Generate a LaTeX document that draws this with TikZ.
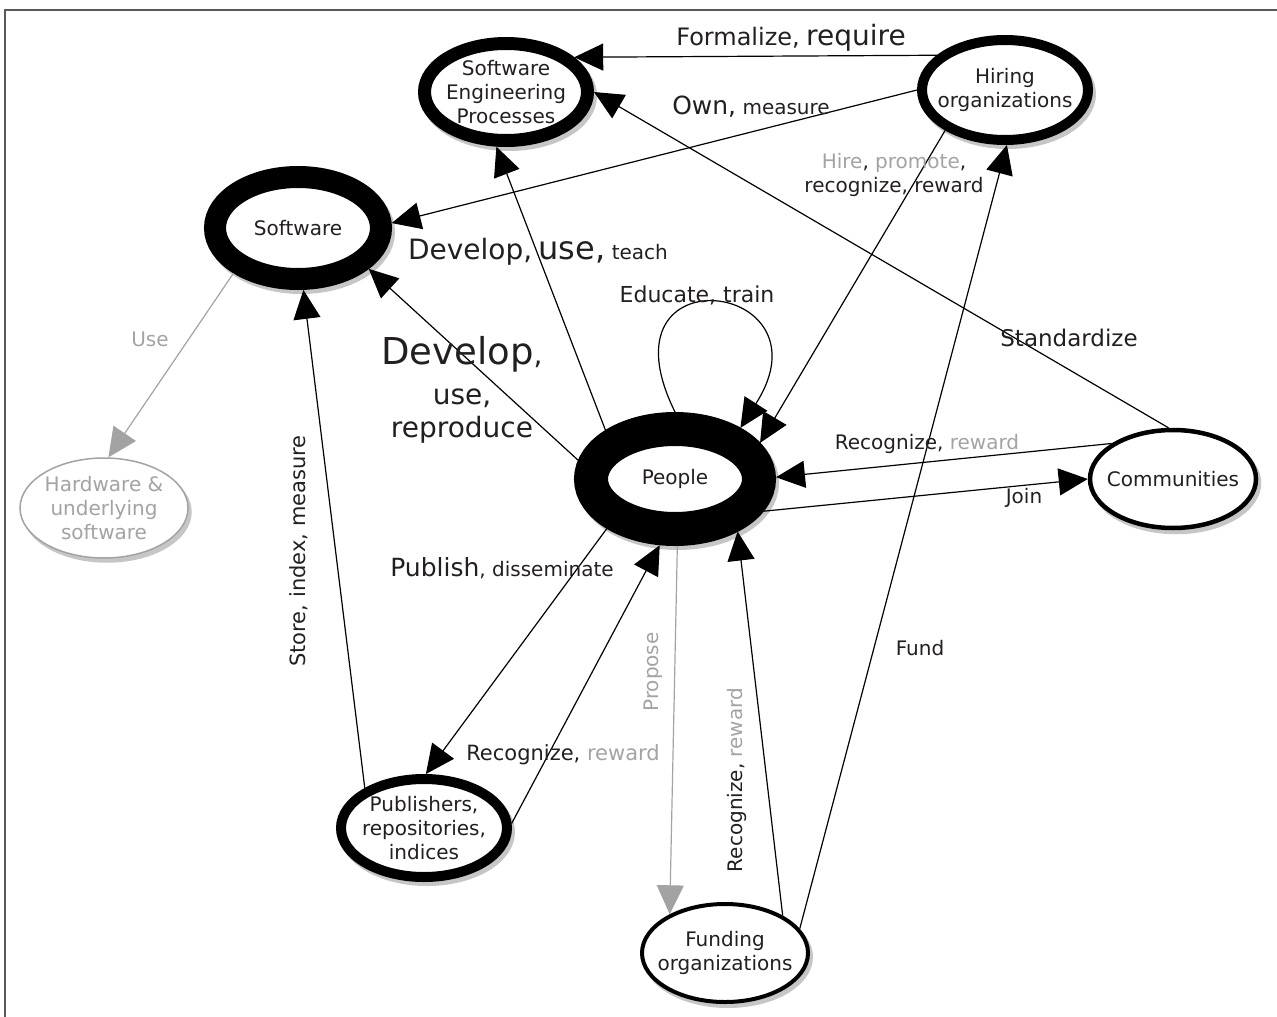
\documentclass[tikz,border=0pt]{standalone}
\usepackage{fontspec}
\setmainfont{DejaVu Sans}
\usetikzlibrary{shapes.geometric,arrows.meta}
\definecolor{ink}{HTML}{231F20}
\definecolor{faint}{HTML}{A3A3A3}
\definecolor{shade}{HTML}{C6C6C6}
\newcommand\lblsize[1]{\fontsize{#1}{24}\selectfont}

\begin{document}
\begin{tikzpicture}[x=1pt, y=-1pt, line width=1.2pt,
    >={Triangle[length=29pt, width=27pt]},
    actor/.style={ellipse, draw=black, fill=white, line width=#1,
      inner sep=-30pt, minimum width=166pt, minimum height=98pt,
      align=center, text=ink, font=\lblsize{20},
      preaction={fill=shade, draw=shade, line width=#1,
        transform canvas={xshift=3pt, yshift=-4pt}}},
    lbl/.style={text=ink, font=\lblsize{20}, inner sep=0pt, align=center}]
    \useasboundingbox (0, 0) rectangle (1277, 1017);
    \draw[line width=1.5pt, black!65] (5, 1017) -- (5, 10) -- (1277, 10);

    \node[actor=13pt, minimum width=163pt, minimum height=97pt]
      (sep) at (506, 92) {Software\\Engineering\\Processes};
    \node[actor=10pt, minimum height=100pt]
      (hir) at (1005, 90) {Hiring\\organizations};
    \node[actor=22pt, minimum height=102pt]
      (sw) at (298, 228) {Software};
    \node[actor=34pt, minimum width=168pt, minimum height=100pt]
      (ppl) at (675, 479) {People};
    \node[actor=4.5pt]
      (com) at (1173, 479) {Communities};
    \node[actor=1.5pt, draw=faint, text=faint, minimum width=168pt, minimum height=100pt]
      (hw) at (104, 508) {Hardware \&\\underlying\\software};
    \node[actor=10pt]
      (pub) at (424, 828) {Publishers,\\repositories,\\indices};
    \node[actor=4pt]
      (fund) at (725, 953) {Funding\\organizations};

    \draw[->] (hir.153) -- (sep.27);
    \draw[->] (hir.180) -- (sw.3);
    \draw[->] (ppl.145) -- (sep.260);
    \draw[->] (ppl.169) -- (sw.330);
    \draw[->] (com.95) -- (sep.0);
    \draw[->] (hir.214) -- (ppl.23);
    \draw[->] (fund.18) -- (hir.272);
    \draw[->] (ppl.90) .. controls (595, 250) and (835, 280) .. (ppl.38);
    \draw[->] (com.150) -- (ppl.1);
    \draw[->] (ppl.-20) -- (com.180);
    \draw[->, draw=faint] (sw.215) -- (hw.85);
    \draw[->] (pub.146) -- (sw.275);
    \draw[->] (ppl.216) -- (pub.88);
    \draw[->] (pub.3) -- (ppl.257);
    \draw[->, draw=faint] (ppl.272) -- (fund.145);
    \draw[->] (fund.33) -- (ppl.320);

    \node[lbl] (formalize) at (791, 38)
      {{\lblsize{24}Formalize,} {\lblsize{28}require}};
    \node[lbl] (own) at (751, 107) {{\lblsize{25}Own,} measure};
    \node[lbl] (teach) at (538, 252)
      {{\lblsize{28}Develop,} {\lblsize{32}use,} teach};
    \node[lbl] (repro) at (462, 390)
      {{\lblsize{37}Develop}{\lblsize{28},}\\[16pt]
       {\lblsize{28}use,}\\[8pt] {\lblsize{28}reproduce}};
    \node[lbl] (educate) at (697, 295) {\lblsize{22}Educate, train};
    \node[lbl] (standard) at (1069, 338) {\lblsize{23}Standardize};
    \node[lbl] (hire) at (894, 175)
      {\textcolor{faint}{Hire}, \textcolor{faint}{promote},\\ recognize, reward};
    \node[lbl] (recogcom) at (927, 444) {Recognize, \textcolor{faint}{reward}};
    \node[lbl] (join) at (1024, 498) {Join};
    \node[lbl, text=faint] (use) at (150, 339) {Use};
    \node[lbl, rotate=90, font=\lblsize{21}] (store) at (299, 551) {Store, index, measure};
    \node[lbl] (publish) at (502, 568) {{\lblsize{25}Publish}, disseminate};
    \node[lbl, font=\lblsize{21}] (recogpub) at (563, 755) {Recognize, \textcolor{faint}{reward}};
    \node[lbl, rotate=90, text=faint] (propose) at (653, 672) {Propose};
    \node[lbl, rotate=90] (recogfund) at (737, 780)
      {Recognize, \textcolor{faint}{reward}};
    \node[lbl] (fundlbl) at (920, 648) {Fund};
  \end{tikzpicture}
\end{document}
